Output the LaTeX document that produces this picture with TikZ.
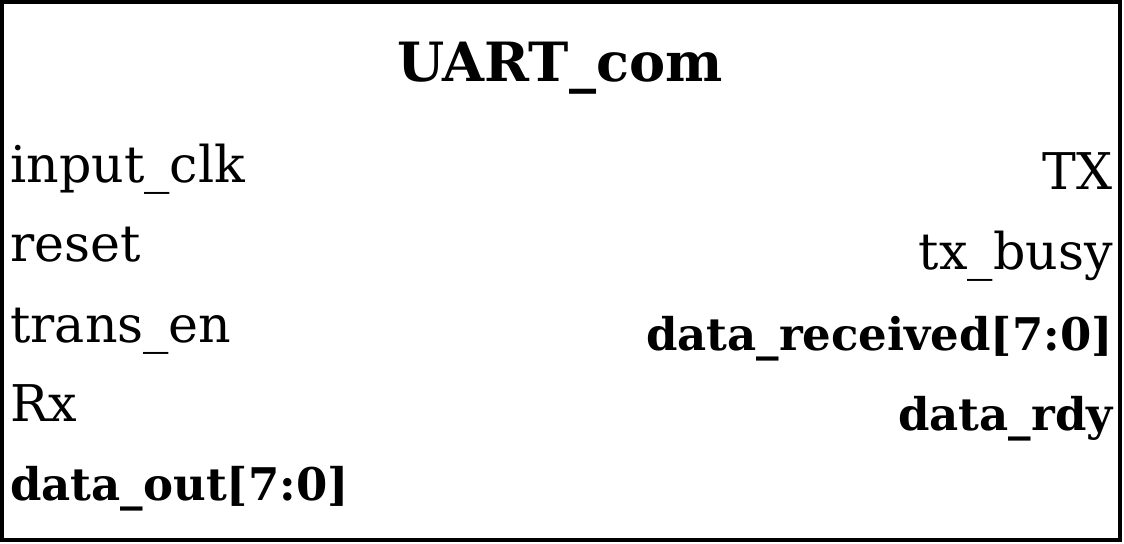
\documentclass[tikz,border=0pt]{standalone}
\usepackage{fontspec}
\setmainfont{DejaVu Serif}
\usetikzlibrary{positioning}

\begin{document}
\begin{tikzpicture}[x=0.025cm, y=-0.025cm,
  title/.style={anchor=base, inner sep=0pt, font=\fontsize{38.5}{44}\selectfont\bfseries},
  inport/.style={anchor=base west, inner sep=0pt, font=\fontsize{36}{40}\selectfont},
  outport/.style={anchor=base east, inner sep=0pt, font=\fontsize{36}{40}\selectfont},
  bus/.style={font=\fontsize{32}{36}\selectfont\bfseries}]
  \useasboundingbox (0,0) rectangle (1124,544);

  % Module box
  \draw[line width=2.4pt] (2,2) rectangle (1120,540);
  \node[title] (name) at (560,82) {UART\_com};

  % Inputs
  \node[inport] (clk) at (10,183) {input\_clk};
  \node[inport] (rst) at (10,262) {reset};
  \node[inport] (ten) at (10,342) {trans\_en};
  \node[inport] (rx) at (10,421) {Rx};
  \node[inport, bus] (dout) at (10,500) {data\_out[7:0]};

  % Outputs
  \node[outport] (tx) at (1113,190) {TX};
  \node[outport] (busy) at (1113,270) {tx\_busy};
  \node[outport, bus] (drec) at (1113,350) {data\_received[7:0]};
  \node[outport, bus] (rdy) at (1113,430) {data\_rdy};
\end{tikzpicture}
\end{document}
